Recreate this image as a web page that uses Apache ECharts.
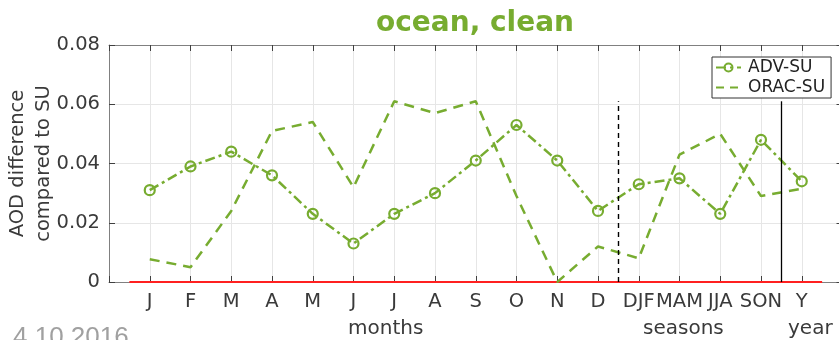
<!DOCTYPE html>
<html>
<head>
<meta charset="utf-8">
<script src="https://cdn.jsdelivr.net/npm/echarts@6/dist/echarts.min.js"></script>
<style>
  html, body { margin: 0; padding: 0; background: #fff; }
  #chart { width: 839px; height: 340px; }
</style>
</head>
<body>
<div id="chart"></div>
<script>
// Tick labels along the bottom axis: 12 months, 4 seasons, 1 year
const categories = ['J','F','M','A','M','J','J','A','S','O','N','D','DJF','MAM','JJA','SON','Y'];

// AOD difference relative to SU
const advSu  = [0.031, 0.039, 0.044, 0.036, 0.023, 0.013, 0.023, 0.030, 0.041, 0.053, 0.041, 0.024,
                0.033, 0.035, 0.023, 0.048, 0.034];
const oracSu = [0.0077, 0.005, 0.024, 0.051, 0.054, 0.032, 0.061, 0.057, 0.061, 0.029, 0.000, 0.012,
                0.008, 0.043, 0.050, 0.029, 0.0315];

// Reference elements in data units
const zeroSpan = [-0.5, 16.5];       // red zero line extent along x
const seasonDivider = 11.5;          // months | seasons
const yearDivider = 15.5;            // seasons | year
const dividerTop = 0.061;

const yTicks = [0, 0.02, 0.04, 0.06, 0.08];

const GREEN = '#77ac30';
const AXIS = '#808080';
const TEXT = '#3a3a3a';
const FONT = 'DejaVu Sans';
const ADV_DASH = [10, 4, 3, 4];
const ORAC_DASH = [10, 7];

const chart = echarts.init(document.getElementById('chart'), null, { renderer: 'canvas' });

const xBase = {
  type: 'value', min: -1, max: 17, interval: 1,
  axisLine: { show: true, onZero: false, lineStyle: { color: AXIS, width: 1 } },
  axisTick: { show: true, inside: true, length: 6, lineStyle: { color: '#404040' } },
};

const yBase = {
  type: 'value', min: yTicks[0], max: yTicks[yTicks.length - 1], interval: 0.02,
  axisLine: { show: true, onZero: false, lineStyle: { color: AXIS, width: 1 } },
  axisTick: { show: true, inside: true, length: 6, lineStyle: { color: '#404040' } },
};

chart.setOption({
  animation: false,
  backgroundColor: '#fff',
  title: {
    text: 'ocean, clean',
    left: 470, top: 5, textAlign: 'center',
    textStyle: { fontFamily: FONT, fontSize: 28, fontWeight: 'bold', color: GREEN }
  },
  grid: { left: 109, top: 45, width: 733.5, height: 237, containLabel: false, outerBoundsMode: 'none' },
  legend: {
    data: [
      { name: 'ADV-SU', lineStyle: { type: ADV_DASH } },
      { name: 'ORAC-SU', itemStyle: { color: 'rgba(0,0,0,0)', borderWidth: 0 }, lineStyle: { type: [8, 6] } }
    ],
    orient: 'vertical',
    left: 712, top: 57,
    padding: [2, 6, 2, 3],
    itemGap: 3,
    itemWidth: 25, itemHeight: 10,
    backgroundColor: '#fff',
    borderColor: '#333', borderWidth: 1, borderRadius: 0,
    textStyle: { fontFamily: FONT, fontSize: 17, color: '#222', padding: [0, 0, 0, 2] }
  },
  xAxis: [
    Object.assign({}, xBase, {
      position: 'bottom',
      axisLabel: {
        show: true, margin: 10, fontFamily: FONT, fontSize: 19.5, color: TEXT,
        formatter: v => (v >= 0 && v < categories.length ? categories[v] : '')
      },
      splitLine: { show: true, lineStyle: { color: '#e6e6e6', width: 1 } }
    }),
    Object.assign({}, xBase, {
      position: 'top',
      axisLabel: { show: false },
      splitLine: { show: false }
    })
  ],
  yAxis: [
    Object.assign({}, yBase, {
      position: 'left',
      name: 'AOD difference\ncompared to SU',
      nameLocation: 'middle', nameGap: 51.5, nameRotate: 90, nameMoveOverlap: false,
      nameTextStyle: { fontFamily: FONT, fontSize: 19.5, color: TEXT, lineHeight: 26.5 },
      axisLabel: {
        margin: 9, fontFamily: FONT, fontSize: 19.5, color: TEXT,
        formatter: v => (v === 0 ? '0' : v.toFixed(2))
      },
      splitLine: { show: true, lineStyle: { color: '#e6e6e6', width: 1 } }
    }),
    Object.assign({}, yBase, {
      position: 'right',
      axisLabel: { show: false },
      splitLine: { show: false }
    })
  ],
  series: [
    {
      name: 'zero',
      type: 'line',
      silent: true,
      symbol: 'none',
      z: 1,
      lineStyle: { color: '#ff2020', width: 2 },
      data: zeroSpan.map(x => [x, 0]),
      markLine: {
        silent: true, symbol: 'none', label: { show: false },
        animation: false,
        data: [
          [{ coord: [seasonDivider, 0], lineStyle: { color: '#000', width: 1.4, type: [5, 4] } },
           { coord: [seasonDivider, dividerTop] }],
          [{ coord: [yearDivider, 0], lineStyle: { color: '#000', width: 1.3, type: 'solid' } },
           { coord: [yearDivider, dividerTop] }]
        ]
      }
    },
    {
      name: 'ADV-SU',
      type: 'line',
      z: 3,
      symbol: 'circle',
      symbolSize: 10,
      showAllSymbol: true,
      itemStyle: { color: 'rgba(0,0,0,0)', borderColor: GREEN, borderWidth: 2.2 },
      lineStyle: { color: GREEN, width: 2.5, type: ADV_DASH },
      data: advSu.map((v, i) => [i, v])
    },
    {
      name: 'ORAC-SU',
      type: 'line',
      z: 3,
      symbol: 'none',
      itemStyle: { color: GREEN },
      lineStyle: { color: GREEN, width: 2.5, type: ORAC_DASH },
      data: oracSu.map((v, i) => [i, v])
    }
  ],
  graphic: [
    { type: 'text', left: 348, top: 319,
      style: { text: 'months', font: '20px "DejaVu Sans"', fill: TEXT } },
    { type: 'text', left: 643, top: 319,
      style: { text: 'seasons', font: '20px "DejaVu Sans"', fill: TEXT } },
    { type: 'text', left: 788, top: 319,
      style: { text: 'year', font: '20px "DejaVu Sans"', fill: TEXT } },
    { type: 'text', left: 13, top: 325,
      style: { text: '4.10.2016', font: '26px "Liberation Sans"', fill: '#a0a0a0' } }
  ]
});
</script>
</body>
</html>
